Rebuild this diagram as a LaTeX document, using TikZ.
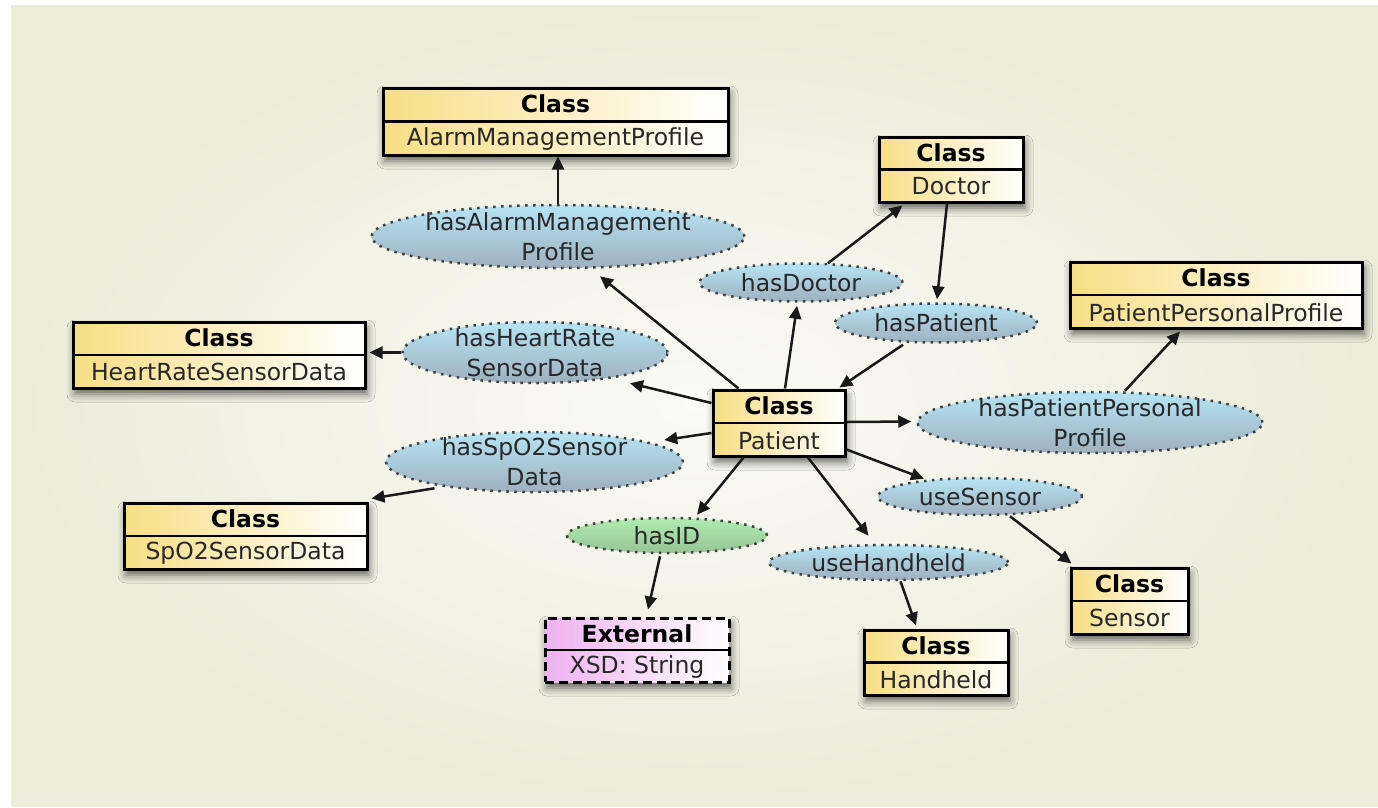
\documentclass[tikz,border=0pt]{standalone}
\usepackage{fontspec}
\setmainfont{DejaVu Sans}
\usetikzlibrary{shapes.geometric,arrows.meta,calc,shadows.blur}

\definecolor{bgin}{RGB}{250,250,246}
\definecolor{bgout}{RGB}{236,236,218}
\definecolor{clsy}{RGB}{247,222,132}
\definecolor{extp}{RGB}{238,178,240}
\definecolor{elltop}{RGB}{182,228,244}
\definecolor{ellmid}{RGB}{160,214,236}
\definecolor{ellbot}{RGB}{158,176,190}
\definecolor{greentop}{RGB}{176,236,176}
\definecolor{greenmid}{RGB}{160,224,160}
\definecolor{greenbot}{RGB}{150,196,150}
\definecolor{txt}{RGB}{40,40,40}

\tikzset{
  clsbox/.style={draw=black, line width=3pt, left color=clsy, right color=white,
    inner sep=0pt,
    blur shadow={shadow xshift=2pt, shadow yshift=-6pt, shadow blur radius=8pt, shadow opacity=60}},
  extbox/.style={clsbox, left color=extp, dash pattern=on 9pt off 5pt},
  hdr/.style={font=\fontsize{23.5}{28}\selectfont\bfseries, text=black, inner sep=0pt},
  bdy/.style={font=\fontsize{23.5}{28}\selectfont, text=txt, inner sep=0pt},
  prop/.style={ellipse, draw=black!75, line width=2.5pt, dash pattern=on 2.5pt off 5.5pt,
    top color=elltop, middle color=ellmid, bottom color=ellbot, inner sep=0pt},
  idprop/.style={prop, top color=greentop, middle color=greenmid, bottom color=greenbot},
  proptext/.style={font=\fontsize{23.5}{30}\selectfont, text=txt, align=center, inner sep=0pt},
  arr/.style={draw=black!90, line width=2.5pt, -{Triangle[length=13pt,width=12pt]}}
}

\newcommand\umlbox[8]{%
  \node[#1, minimum width=#5pt, minimum height=#6pt] (#2) at (#3,#4) {};
  \draw[line width=2.5pt] (#2.west) -- (#2.east);
  \node[hdr] at ($(#2.center)!0.5!(#2.north)$) {#7};
  \node[bdy] at ($(#2.center)!0.5!(#2.south)$) {#8};
}
\newcommand\propnode[7]{%
  \node[#1, minimum width=#5pt, minimum height=#6pt] (#2) at (#3,#4) {};
  \node[proptext] (#2-t) at (#2.center) {#7};
}

\begin{document}
\begin{tikzpicture}[x=1pt,y=-1pt]
\useasboundingbox (0,0) rectangle (1378,807);
\fill[white] (0,0) rectangle (1378,807);
\shade[inner color=bgin, outer color=bgout] (11,5) rectangle (1378,806);

% ellipses (properties)
\propnode{prop}{hamp}{558}{236.5}{373}{63}{hasAlarmManagement\\Profile}
\propnode{prop}{hdoc}{801}{282.5}{203}{38}{hasDoctor}
\propnode{prop}{hpat}{936}{323}{202}{39}{hasPatient}
\propnode{prop}{hhr}{535}{352.5}{265}{61}{hasHeartRate\\SensorData}
\propnode{prop}{hppp}{1090}{422.5}{345}{61}{hasPatientPersonal\\Profile}
\propnode{prop}{hspo}{534.5}{462}{297}{60}{hasSpO2Sensor\\Data}
\propnode{idprop}{hid}{667}{535.5}{200}{35}{hasID}
\propnode{prop}{uses}{980}{496.5}{204}{37}{useSensor}
\propnode{prop}{useh}{888.5}{562.5}{239}{35}{useHandheld}

% classes
\umlbox{clsbox}{amp}{555.5}{121.5}{345}{67}{Class}{AlarmManagementProfile}
\umlbox{clsbox}{doc}{951}{169.5}{144}{65}{Class}{Doctor}
\umlbox{clsbox}{ppp}{1216}{295}{292}{66}{Class}{PatientPersonalProfile}
\umlbox{clsbox}{hr}{219}{355}{292}{66}{Class}{HeartRateSensorData}
\umlbox{clsbox}{pat}{779}{423}{132}{66}{Class}{Patient}
\umlbox{clsbox}{spo}{245.5}{536}{243}{66}{Class}{SpO2SensorData}
\umlbox{extbox}{ext}{637}{650}{184}{64}{External}{XSD: String}
\umlbox{clsbox}{hh}{936}{662.5}{144}{65}{Class}{Handheld}
\umlbox{clsbox}{sen}{1129.5}{601}{117}{66}{Class}{Sensor}

% connectors
\draw[arr] (hamp.north) -- (hamp.north |- amp.south);
\draw[arr] ($(pat.north west)+(27,0)$) -- ($(hamp.south)+(42,7)$);
\draw[arr] ($(hdoc.north)+(27,1)$) -- ($(doc.south west)+(25,2)$);
\draw[arr] ($(pat.north)+(6,0)$) -- ($(hdoc.south)+(-4,3)$);
\draw[arr] ($(doc.south)+(-4,0)$) -- ($(hpat.north)+(1,-3)$);
\draw[arr] ($(hpat.south)+(-33,1)$) -- ($(pat.north east)+(-7,-1)$);
\draw[arr] ($(pat.west)+(0,-20)$) -- ($(hhr.south)+(95,-1)$);
\draw[arr] (hhr.west) -- ($(hhr.west -| hr.east)+(3,0)$);
\draw[arr] ($(pat.west)+(0,10)$) -- ($(hspo.east)+(-20,-22)$);
\draw[arr] ($(hspo.south)+(-100,-5)$) -- ($(spo.north east)+(3,-3)$);
\draw[arr] ($(pat.east)+(0,-1)$) -- ($(hppp.west)+(-5,-1)$);
\draw[arr] ($(hppp.north)+(35,0)$) -- ($(ppp.south)+(-36,2)$);
\draw[arr] ($(pat.south east)+(0,-8)$) -- ($(uses.north)+(-56,2)$);
\draw[arr] ($(uses.south)+(30,0)$) -- ($(sen.north west)+(2,-3)$);
\draw[arr] ($(pat.south)+(29,0)$) -- ($(useh.north)+(-20,-8)$);
\draw[arr] ($(useh.south)+(12,0)$) -- ($(hh.north)+(-20,-3)$);
\draw[arr] ($(pat.south west)+(32,0)$) -- ($(hid.north)+(30,-2)$);
\draw[arr] ($(hid.south)+(-7,2)$) -- ($(ext.north)+(11,-7)$);
\end{tikzpicture}
\end{document}
